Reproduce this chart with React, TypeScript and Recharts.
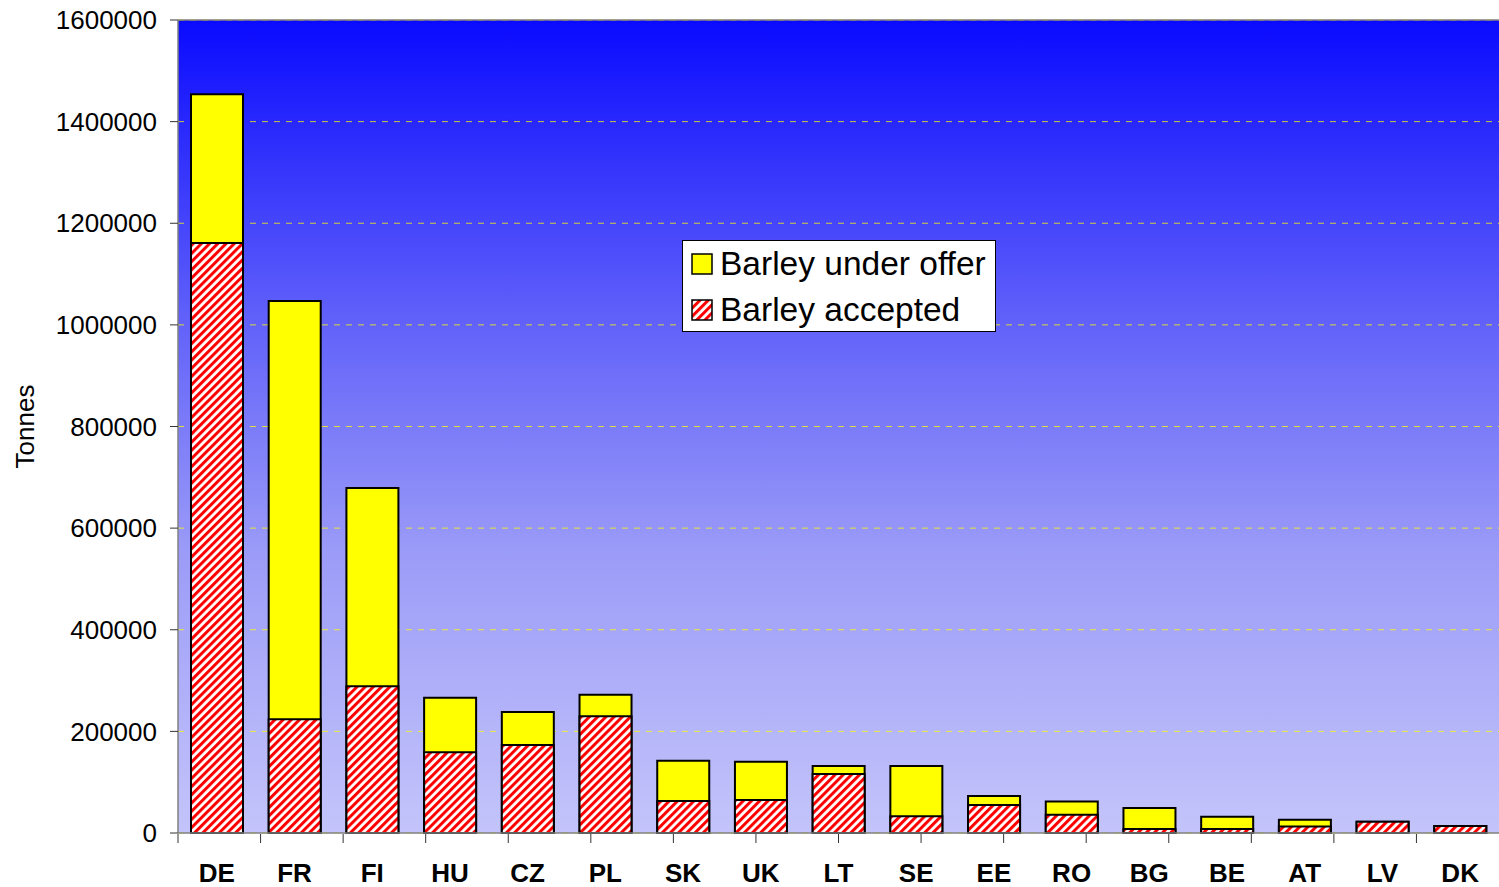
import {
  Bar,
  BarChart,
  CartesianGrid,
  Legend,
  ReferenceLine,
  XAxis,
  YAxis,
} from "recharts";

const countries = ["DE", "FR", "FI", "HU", "CZ", "PL", "SK", "UK", "LT", "SE", "EE", "RO", "BG", "BE", "AT", "LV", "DK"];
const underOffer = [1454000, 1047000, 679000, 266000, 238000, 272000, 142000, 140000, 132000, 132000, 73000, 62000, 49000, 32000, 26000, 22000, 14000];
const accepted = [1161000, 224000, 289000, 159000, 173000, 230000, 63000, 65000, 116000, 33000, 55000, 36000, 8000, 8000, 13000, 22000, 14000];
const yTicks = [0, 200000, 400000, 600000, 800000, 1000000, 1200000, 1400000, 1600000];
const edgeTicks = countries.map((_, i) => i).concat([countries.length]);

const data = countries.map((c, i) => ({ country: c, offer: underOffer[i], accepted: accepted[i] }));

const FONT = "'Liberation Sans', Arial, sans-serif";

function Hatch({ id }: { id: string }) {
  return (
    <pattern id={id} width={5.8} height={5.8} patternUnits="userSpaceOnUse" patternTransform="rotate(45)">
      <rect width={5.8} height={5.8} fill="#ffffff" />
      <rect width={3} height={5.8} fill="#ff0000" />
    </pattern>
  );
}

function LegendBox() {
  const row = { display: "flex", alignItems: "center", height: 46 } as const;
  const text = { fontSize: 33.5, marginLeft: 7, color: "#000", whiteSpace: "nowrap" } as const;
  return (
    <div
      style={{
        background: "#fff",
        border: "1px solid #000",
        width: 314,
        height: 92,
        paddingLeft: 8,
        boxSizing: "border-box",
        fontFamily: FONT,
      }}
    >
      <div style={row}>
        <svg width={22} height={22}>
          <rect x={1} y={1} width={20} height={20} fill="#ffff00" stroke="#000" strokeWidth={1.5} />
        </svg>
        <span style={text}>Barley under offer</span>
      </div>
      <div style={row}>
        <svg width={22} height={22}>
          <defs>
            <Hatch id="legendHatch" />
          </defs>
          <rect x={1} y={1} width={20} height={20} fill="url(#legendHatch)" stroke="#000" strokeWidth={1.5} />
        </svg>
        <span style={text}>Barley accepted</span>
      </div>
    </div>
  );
}

export default function App() {
  return (
    <div style={{ position: "absolute", left: 0, top: 0, background: "#fff", fontFamily: FONT }}>
      <BarChart
        width={1499}
        height={887}
        data={data}
        margin={{ top: 20, right: 0, bottom: 0, left: 0 }}
        barSize={52}
        barGap={-52}
      >
        <defs>
          <linearGradient id="plotBg" x1="0" y1="0" x2="0" y2="1">
            <stop offset="0%" stopColor="#0a0aff" />
            <stop offset="36%" stopColor="#5f5ffa" />
            <stop offset="66%" stopColor="#9c9cf8" />
            <stop offset="100%" stopColor="#c4c4fb" />
          </linearGradient>
          <Hatch id="barHatch" />
        </defs>
        <CartesianGrid
          vertical={false}
          fill="url(#plotBg)"
          fillOpacity={1}
          stroke="#ffff00"
          strokeOpacity={0.75}
          strokeDasharray="6 6"
        />
        <XAxis
          dataKey="country"
          height={1}
          tickSize={0}
          tickMargin={31}
          axisLine={{ stroke: "#808080", strokeWidth: 1.5 }}
          tickLine={false}
          tick={{ fill: "#000", fontSize: 26, fontWeight: "bold", fontFamily: FONT }}
        />
        <XAxis
          xAxisId="edges"
          type="number"
          domain={[0, countries.length]}
          ticks={edgeTicks}
          tickFormatter={() => ""}
          height={53}
          tickSize={9}
          axisLine={false}
          tickLine={{ stroke: "#333" }}
        />
        <YAxis
          width={178}
          domain={[0, 1600000]}
          ticks={yTicks}
          interval={0}
          tickSize={8}
          tickMargin={13}
          axisLine={{ stroke: "#808080", strokeWidth: 1.5 }}
          tickLine={{ stroke: "#333" }}
          tick={{ fill: "#000", fontSize: 26, fontFamily: FONT }}
          label={{
            value: "Tonnes",
            angle: -90,
            position: "insideLeft",
            offset: 25,
            style: { textAnchor: "middle", fontSize: 26, fill: "#000", fontFamily: FONT },
          }}
        />
        <ReferenceLine y={1600000} stroke="#808080" strokeWidth={1.5} />
        <Legend
          layout="horizontal"
          verticalAlign="middle"
          align="center"
          content={<LegendBox />}
          wrapperStyle={{ position: "absolute", left: 682, top: 240, width: 314, height: 92 }}
        />
        <Bar
          dataKey="offer"
          name="Barley under offer"
          fill="#ffff00"
          stroke="#000"
          strokeWidth={2}
          isAnimationActive={false}
        />
        <Bar
          dataKey="accepted"
          name="Barley accepted"
          fill="url(#barHatch)"
          stroke="#000"
          strokeWidth={2}
          isAnimationActive={false}
        />
      </BarChart>
    </div>
  );
}
